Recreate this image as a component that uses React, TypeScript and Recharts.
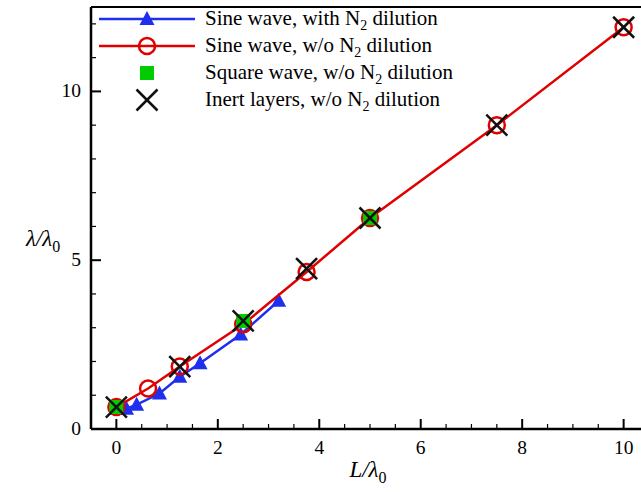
import React from 'react';
import { ComposedChart, Scatter, XAxis, YAxis, Legend, ReferenceLine } from 'recharts';

// L/lambda0 vs lambda/lambda0
const sineN2 = [
  { x: 0, y: 0.6 },
  { x: 0.2, y: 0.6 },
  { x: 0.4, y: 0.72 },
  { x: 0.85, y: 1.05 },
  { x: 1.25, y: 1.55 },
  { x: 1.65, y: 1.95 },
  { x: 2.45, y: 2.8 },
  { x: 3.2, y: 3.8 },
];
const sineNoN2 = [
  { x: 0, y: 0.65 },
  { x: 0.625, y: 1.2 },
  { x: 1.25, y: 1.85 },
  { x: 2.5, y: 3.1 },
  { x: 3.75, y: 4.65 },
  { x: 5, y: 6.25 },
  { x: 7.5, y: 9.0 },
  { x: 10, y: 11.9 },
];
const squareNoN2 = [
  { x: 0, y: 0.65 },
  { x: 2.5, y: 3.2 },
  { x: 5, y: 6.25 },
];
const inertNoN2 = [
  { x: 0, y: 0.65 },
  { x: 1.25, y: 1.85 },
  { x: 2.5, y: 3.2 },
  { x: 3.75, y: 4.75 },
  { x: 5, y: 6.25 },
  { x: 7.5, y: 9.0 },
  { x: 10, y: 11.9 },
];

const xTicks = [0, 0.5, 1, 1.5, 2, 2.5, 3, 3.5, 4, 4.5, 5, 5.5, 6, 6.5, 7, 7.5, 8, 8.5, 9, 9.5, 10];
const xLabels = [0, 2, 4, 6, 8, 10];
const yTicks = [0, 1, 2, 3, 4, 5, 6, 7, 8, 9, 10, 11, 12];
const yLabels = [0, 5, 10];

const FONT = '"Liberation Serif", "Times New Roman", serif';
const BLUE = '#1f2ff0';
const RED = '#e00000';
const GREEN = '#00cc00';

const Triangle = ({ cx, cy }: any) => (
  <polygon points={`${cx},${cy - 8} ${cx - 7.5},${cy + 6} ${cx + 7.5},${cy + 6}`} fill={BLUE} stroke="none" />
);
const Circle = ({ cx, cy }: any) => (
  <circle cx={cx} cy={cy} r={8} fill="none" stroke={RED} strokeWidth={2.5} />
);
const Square = ({ cx, cy }: any) => <rect x={cx - 7} y={cy - 7} width={14} height={14} fill={GREEN} />;
const Cross = ({ cx, cy }: any) => (
  <g stroke="#111" strokeWidth={2.5}>
    <line x1={cx - 10.5} y1={cy - 10.5} x2={cx + 10.5} y2={cy + 10.5} />
    <line x1={cx - 10.5} y1={cy + 10.5} x2={cx + 10.5} y2={cy - 10.5} />
  </g>
);

const YTick = ({ x, y, payload }: any) => {
  const major = yLabels.includes(payload.value);
  return (
    <g>
      <line x1={x} x2={x + (major ? 10 : 5)} y1={y} y2={y} stroke="#000" strokeWidth={major ? 2 : 1.2} />
      {major && (
        <text x={x - 10} y={y + 6} textAnchor="end" fontFamily={FONT} fontSize={19.5} fill="#000">
          {payload.value}
        </text>
      )}
    </g>
  );
};

const XTick = ({ x, y, payload }: any) => {
  const major = xLabels.includes(payload.value);
  return (
    <g>
      <line x1={x} x2={x} y1={y} y2={y - (major ? 10 : 5)} stroke="#000" strokeWidth={major ? 2 : 1.2} />
      {major && (
        <text x={x} y={y + 25} textAnchor="middle" fontFamily={FONT} fontSize={19.5} fill="#000">
          {payload.value}
        </text>
      )}
    </g>
  );
};

const legendRows = [
  { prefix: 'Sine wave, with N', kind: 'tri' },
  { prefix: 'Sine wave, w/o N', kind: 'circ' },
  { prefix: 'Square wave, w/o N', kind: 'sq' },
  { prefix: 'Inert layers, w/o N', kind: 'x' },
];

const LegendBox = () => (
  <svg width={380} height={116}>
    {legendRows.map((r, i) => {
      const cy = 14 + i * 27;
      const cx = 51;
      return (
        <g key={r.kind}>
          {r.kind === 'tri' && <line x1={3} x2={99} y1={cy} y2={cy} stroke={BLUE} strokeWidth={2.5} />}
          {r.kind === 'circ' && <line x1={3} x2={99} y1={cy} y2={cy} stroke={RED} strokeWidth={2.5} />}
          {r.kind === 'tri' && <Triangle cx={cx} cy={cy} />}
          {r.kind === 'circ' && <Circle cx={cx} cy={cy} />}
          {r.kind === 'sq' && <Square cx={cx} cy={cy} />}
          {r.kind === 'x' && <Cross cx={cx} cy={cy} />}
          <text x={109} y={cy + 6} fontFamily={FONT} fontSize={21} fill="#000">
            {r.prefix}
            <tspan fontSize={14} dy={5}>2</tspan>
            <tspan dy={-5}> dilution</tspan>
          </text>
        </g>
      );
    })}
  </svg>
);

const YLabel = () => (
  <text x={26} y={246} fontFamily={FONT} fontSize={23} fill="#000">
    <tspan fontStyle="italic">λ/λ</tspan>
    <tspan fontSize={16} dy={6}>0</tspan>
  </text>
);

const XLabel = () => (
  <text x={368} y={477} textAnchor="middle" fontFamily={FONT} fontSize={23} fill="#000">
    <tspan fontStyle="italic">L/λ</tspan>
    <tspan fontSize={16} dy={6}>0</tspan>
  </text>
);

export default function App() {
  return (
    <div style={{ position: 'fixed', left: 0, top: 0, width: 641, height: 492, overflow: 'hidden', background: '#fff' }}>
      <ComposedChart width={660} height={492} margin={{ top: 7, right: 11, left: 0, bottom: 0 }}>
        <XAxis
          type="number"
          dataKey="x"
          domain={[-0.5, 10.5]}
          ticks={xTicks}
          interval={0}
          height={63}
          tickSize={0}
          tickMargin={0}
          tickLine={false}
          axisLine={{ stroke: '#000', strokeWidth: 2.5 }}
          tick={<XTick />}
          label={<XLabel />}
        />
        <YAxis
          type="number"
          dataKey="y"
          domain={[0, 12.5]}
          ticks={yTicks}
          interval={0}
          width={91}
          tickSize={0}
          tickMargin={0}
          tickLine={false}
          axisLine={{ stroke: '#000', strokeWidth: 2.5 }}
          tick={<YTick />}
          label={<YLabel />}
        />
        <ReferenceLine y={12.5} stroke="#000" strokeWidth={2} />
        <Scatter
          data={sineN2}
          line={{ stroke: BLUE, strokeWidth: 2.5 }}
          lineJointType="linear"
          shape={<Triangle />}
          isAnimationActive={false}
        />
        <Scatter
          data={sineNoN2}
          line={{ stroke: RED, strokeWidth: 2.5 }}
          lineJointType="linear"
          shape={<Circle />}
          isAnimationActive={false}
        />
        <Scatter data={squareNoN2} shape={<Square />} isAnimationActive={false} />
        <Scatter data={inertNoN2} shape={<Cross />} isAnimationActive={false} />
        <Legend
          layout="horizontal"
          verticalAlign="middle"
          align="center"
          content={<LegendBox />}
          wrapperStyle={{ left: 96, top: 5, width: 380, height: 116 }}
        />
      </ComposedChart>
    </div>
  );
}
